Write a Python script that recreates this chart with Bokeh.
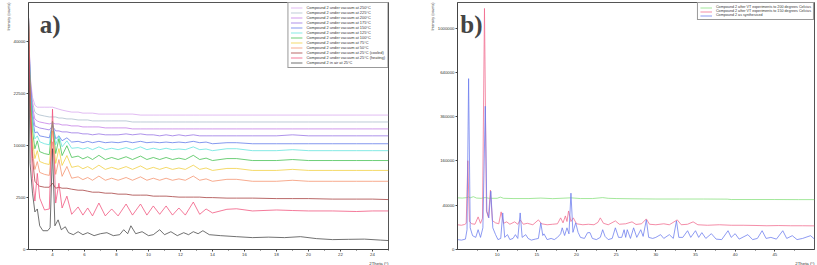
import numpy as np
from bokeh.plotting import figure
from bokeh.layouts import row
from bokeh.models import FixedTicker, Label, Legend, LegendItem, Range1d, Title
from bokeh.embed import file_html
from bokeh.resources import INLINE

# ---------------- panel a) data (2Theta in degrees, intensity in counts) ----------------
two_theta_a = [2.5, 2.6, 2.75, 2.9, 3.05, 3.2, 3.5, 3.8, 4.0, 4.2, 4.4, 4.6, 4.9, 5.2, 5.6, 5.9,
               6.2, 6.5, 6.9, 7.3, 7.7, 8.1, 8.6, 9.0, 9.5, 9.9, 10.3, 10.7, 11.1, 11.5, 11.9,
               12.3, 12.8, 13.2, 13.6, 14.0, 14.9, 15.5, 16.5, 18.0, 19.0, 20.0, 21.5, 23.0,
               24.0, 25.0]

vac250 = [50000, 28090, 21490, 19320, 18800, 18800, 18800, 18800, 18800, 18550, 18280, 18040,
          17770, 17530, 17530, 17270, 17270, 17270, 17030, 17030, 17030, 17030, 17030, 17030,
          16780, 16780, 16780, 16780, 16780, 16780, 16780, 16780, 16780, 16780, 16780, 16780,
          16780, 16780, 16780, 16780, 16780, 16780, 16780, 16780, 16780, 16780]
vac225 = [50000, 27490, 20140, 17530, 17030, 16800, 16540, 16310, 16310, 16310, 16050, 16050,
          15830, 15830, 15580, 15580, 15580, 15350, 15350, 15350, 15350, 15350, 15350, 15094,
          15094, 15094, 15094, 15094, 15094, 15094, 15094, 15094, 15094, 15094, 15094, 15094,
          15094, 15094, 15094, 15094, 15094, 15094, 15094, 15094, 15094, 15094]
vac200 = [50000, 26830, 18820, 15800, 15330, 15100, 14860, 14640, 14860, 14640, 14640, 14400,
          14400, 14180, 14180, 13950, 13950, 13950, 13950, 13730, 13730, 13730, 13730, 13500,
          13500, 13500, 13500, 13500, 13500, 13500, 13500, 13500, 13500, 13500, 13500, 13500,
          13500, 13500, 13500, 13500, 13500, 13500, 13500, 13500, 13500, 13500]
vac175 = [50000, 26210, 17530, 14160, 13950, 13710, 13500, 13270, 14160, 13060, 13060, 12840,
          12840, 12630, 12630, 12410, 12410, 12210, 12410, 12210, 12210, 12210, 12410, 12210,
          12410, 12210, 12210, 11995, 12210, 11995, 12210, 11995, 12210, 11995, 11995, 11995,
          11995, 11995, 11995, 11995, 12210, 11995, 11995, 11995, 11995, 11995]
vac150 = [50000, 25280, 16050, 12630, 12840, 11990, 11790, 11580, 14620, 11380, 11990, 10980,
          11580, 10716, 10863, 10590, 10863, 10590, 10863, 10590, 10716, 10590, 10863, 10590,
          10863, 10590, 10716, 10590, 10716, 10590, 10716, 10590, 10863, 10590, 10716, 10385,
          10590, 10590, 10385, 10385, 10385, 10385, 10385, 10385, 10385, 10385]
vac125 = [50000, 24680, 14860, 11364, 11990, 10774, 10384, 10181, 15326, 10181, 11990, 9801,
          10962, 9513, 9637, 9376, 9637, 9254, 9776, 9254, 9513, 9254, 9637, 9254, 9776, 9254,
          9513, 9254, 9513, 9254, 9376, 9254, 9776, 9254, 9376, 9070, 9428, 9428, 9070, 9070,
          9254, 9070, 9070, 9070, 9070, 9070]
vac100 = [50000, 23226, 13064, 9428, 10962, 8892, 8538, 8354, 15326, 8538, 11385, 8190, 10000,
          7862, 8103, 7627, 7988, 7517, 8232, 7517, 7862, 7517, 7988, 7517, 8103, 7517, 7862,
          7517, 7862, 7517, 7750, 7517, 8232, 7517, 7750, 7347, 7674, 7674, 7347, 7347, 7517,
          7347, 7347, 7347, 7347, 7347]
vac75 = [50000, 20420, 10980, 7674, 9063, 7191, 6872, 6708, 13064, 6872, 9448, 6561, 8190, 6268,
         6484, 6058, 6381, 5960, 6598, 5960, 6268, 5960, 6381, 5960, 6484, 5960, 6268, 5960, 6268,
         5960, 6168, 5960, 6598, 5960, 6168, 5805, 6100, 6100, 5805, 5805, 5960, 5805, 5805, 5805,
         5805, 5805]
vac50 = [50000, 17530, 8890, 5944, 7174, 5520, 5242, 5098, 10774, 5242, 7517, 4970, 6400, 4716,
         4903, 4534, 4814, 4449, 5004, 4449, 4716, 4449, 4814, 4449, 4903, 4449, 4716, 4449, 4716,
         4449, 4629, 4449, 5004, 4449, 4629, 4319, 4570, 4570, 4319, 4319, 4449, 4319, 4319, 4319,
         4319, 4319]
vac25_cooled = [48000, 20950, 7677, 4319, 3950, 3715, 3600, 3600, 4072, 3487, 3600, 3487, 3487,
                3375, 3265, 3265, 3157, 3050, 3050, 2947, 2947, 2845, 2845, 2744, 2744, 2744,
                2645, 2645, 2645, 2596, 2548, 2548, 2548, 2548, 2500, 2500, 2452, 2452, 2452,
                2405, 2405, 2405, 2359, 2359, 2359, 2313]
vac25_heating = [50000, 18290, 4702, 2178, 5377, 2452, 1450, 1525, 18290, 2004, 4072, 1600, 2645,
                 1150, 1680, 1100, 1600, 1048, 2004, 1048, 1525, 1048, 1920, 1100, 1920, 1100,
                 1760, 1150, 1760, 1100, 1600, 1100, 2090, 1150, 1525, 1241, 1500, 1540, 1380,
                 1450, 1410, 1380, 1380, 1340, 1380, 1380]

air_two_theta = [2.5, 2.6, 2.75, 2.9, 3.05, 3.2, 3.4, 3.7, 3.85, 4.0, 4.15, 4.35, 4.55, 4.8, 5.0,
                 5.3, 5.6, 5.9, 6.2, 6.6, 7.0, 7.4, 7.8, 8.2, 8.45, 8.7, 8.9, 9.2, 9.6, 10.0,
                 10.3, 10.7, 11.0, 11.4, 11.8, 12.2, 12.5, 12.8, 13.1, 13.4, 13.8, 14.5, 15.5,
                 16.5, 17.5, 18.5, 19.5, 20.5, 21.5, 22.5, 23.5, 24.5, 25.0]
air25 = [40000, 6866, 2947, 1310, 1525, 522, 327, 327, 439, 9437, 522, 816, 363, 480, 262, 204,
         294, 204, 262, 178, 232, 262, 178, 204, 363, 232, 522, 232, 294, 178, 204, 363, 204, 294,
         178, 262, 204, 294, 232, 327, 204, 178, 153, 131, 142, 131, 153, 110, 91, 96, 100, 82, 74]

series_a_labels = ["Compound 2 under vacuum at 250°C", "Compound 2 under vacuum at 225°C",
                   "Compound 2 under vacuum at 200°C", "Compound 2 under vacuum at 175°C",
                   "Compound 2 under vacuum at 150°C", "Compound 2 under vacuum at 125°C",
                   "Compound 2 under vacuum at 100°C", "Compound 2 under vacuum at 75°C",
                   "Compound 2 under vacuum at 50°C", "Compound 2 under vacuum at 25°C (cooled)",
                   "Compound 2 under vacuum at 25°C (heating)", "Compound 2 in air at 25°C"]
series_a_colors = ["#d7a6ee", "#a9bccb", "#c27ae6", "#9470e4", "#5d78e8", "#5fe3dd", "#3fbf4c",
                   "#f0cf3c", "#f5906c", "#a33a3a", "#f0507a", "#444444"]

x_ticks_a = [4, 6, 8, 10, 12, 14, 16, 18, 20, 22, 24]
x_minor_a = [3, 5, 7, 9, 11, 13, 15, 17, 19, 21, 23, 25]
y_ticks_a = [0, 2500, 10000, 22500, 40000]

# ---------------- panel b) data ----------------
green_two_theta = [5.0, 5.6, 6.2, 6.4, 6.6, 7.0, 7.4, 8.0, 8.5, 9.0, 10.0, 10.4, 10.8, 12.0, 14.0,
                   15.5, 17.0, 19.3, 20.5, 22.0, 23.3, 24.0, 25.0, 27.0, 30.0, 33.0, 36.0, 39.0,
                   39.5, 42.0, 45.0, 48.0, 50.0]
vt200 = [54500, 54000, 55000, 56500, 54500, 57000, 54000, 53500, 55000, 53500, 53500, 56000,
         53500, 53000, 53000, 54000, 52800, 54500, 53000, 53000, 55000, 53500, 53000, 52500,
         52000, 52000, 52000, 51800, 51000, 51000, 51000, 50800, 50800]

pink_two_theta = [5.0, 5.5, 5.9, 6.1, 6.3, 6.5, 6.8, 7.2, 7.6, 7.9, 8.15, 8.4, 8.65, 8.9, 9.15,
                  9.4, 9.8, 10.2, 10.5, 10.8, 11.2, 11.6, 12.2, 12.6, 12.9, 13.3, 13.8, 14.5,
                  15.2, 15.6, 16.3, 17.0, 17.6, 18.0, 18.3, 18.6, 18.8, 19.0, 19.3, 19.6, 20.0,
                  20.8, 21.5, 22.2, 22.7, 23.0, 23.4, 24.0, 24.9, 25.4, 26.2, 27.0, 27.5, 28.2,
                  28.8, 29.2, 30.0, 31.0, 31.7, 32.7, 33.2, 34.0, 34.7, 35.3, 36.5, 38.0, 39.5,
                  41.0, 42.5, 44.0, 45.5, 47.0, 48.5, 50.0]
vt150 = [12500, 12000, 12800, 14000, 161000, 16000, 13500, 13000, 21700, 14000, 20000, 1186000,
         30000, 21000, 71800, 17000, 14500, 13500, 28900, 14000, 15600, 13000, 15600, 13000,
         17900, 13000, 14000, 12500, 17900, 13500, 12500, 13000, 13500, 20400, 14500, 23000,
         16000, 30300, 16000, 20400, 13500, 12500, 13000, 12500, 15000, 20400, 14000, 12500,
         16700, 13000, 13500, 15600, 12800, 13500, 19100, 13000, 12500, 13500, 12500, 17900,
         12500, 13000, 15600, 12500, 12000, 12500, 12000, 12000, 11800, 11500, 11700, 11500,
         11500, 11400]

blue_two_theta = [5.0, 5.5, 6.0, 6.2, 6.4, 6.6, 6.9, 7.3, 7.6, 7.9, 8.2, 8.5, 8.7, 8.95, 9.2,
                  9.45, 9.8, 10.1, 10.45, 10.7, 10.95, 11.3, 11.6, 12.0, 12.3, 12.6, 12.9, 13.15,
                  13.6, 13.9, 14.3, 14.8, 15.2, 15.5, 15.75, 15.9, 16.3, 16.8, 17.2, 17.6, 18.0,
                  18.2, 18.5, 18.8, 19.05, 19.3, 19.55, 19.9, 20.2, 20.5, 21.0, 21.4, 21.7, 22.0,
                  22.5, 23.0, 23.3, 23.6, 24.0, 24.5, 24.9, 25.3, 25.7, 26.0, 26.2, 26.4, 26.8,
                  27.2, 27.6, 28.1, 28.4, 28.8, 29.1, 29.6, 30.0, 30.6, 31.0, 31.7, 32.2, 32.6,
                  32.9, 33.4, 34.0, 34.4, 35.0, 35.4, 35.8, 36.3, 37.0, 37.6, 38.3, 39.1, 39.5,
                  40.0, 40.5, 41.6, 42.2, 42.8, 43.4, 43.9, 44.5, 45.2, 46.0, 46.5, 47.2, 47.8,
                  48.5, 49.5, 50.0]
as_synth = [2000, 1800, 2200, 8000, 596000, 9600, 3900, 3000, 8000, 3000, 9600, 419000, 30000,
            20400, 69400, 9600, 4500, 2000, 2500, 27300, 3000, 4500, 2000, 2500, 4500, 2500,
            27300, 3000, 4500, 2500, 1800, 2200, 2500, 14500, 4000, 5000, 2000, 2500, 2000, 3000,
            5000, 9600, 4000, 9600, 5000, 64800, 6000, 14500, 6000, 3000, 2500, 5800, 5800, 2500,
            2000, 3000, 8000, 3500, 2000, 2500, 9600, 3000, 3000, 8000, 3000, 8000, 2500, 9600,
            3000, 8000, 3500, 17900, 3000, 2500, 3000, 4500, 2500, 4500, 2500, 16700, 3000, 3000,
            7200, 3000, 7200, 3000, 5800, 2500, 5100, 2200, 2000, 7200, 3000, 5100, 2200, 4500,
            2000, 2500, 7200, 2500, 3000, 2200, 7200, 2500, 3900, 2000, 2500, 3900, 2200]

series_b_labels = ["Compound 2 after VT experiments to 200 degrees Celcius",
                   "Compound 2 after VT experiments to 150 degrees Celcius",
                   "Compound 2 as synthesised"]
series_b_colors = ["#86e07c", "#f0698c", "#6b7cee"]

x_ticks_b = [10, 15, 20, 25, 30, 35, 40, 45]
x_minor_b = [7.5, 12.5, 17.5, 22.5, 27.5, 32.5, 37.5, 42.5, 47.5]
y_ticks_b = [0, 40000, 160000, 360000, 640000, 1000000]

FONT = "Liberation Sans"
FRAME_H = 247


def style(p, xt, xm, yt):
    p.grid.visible = False
    p.outline_line_color = "#555555"
    p.outline_line_width = 1
    p.xaxis.ticker = FixedTicker(ticks=xt, minor_ticks=xm)
    ypos = [float(np.sqrt(c)) for c in yt]
    p.yaxis.ticker = FixedTicker(ticks=ypos, minor_ticks=[])
    p.yaxis.major_label_overrides = {pos: str(c) for pos, c in zip(ypos, yt)}
    for ax in (p.xaxis[0], p.yaxis[0]):
        ax.axis_line_color = "#444444"
        ax.major_tick_line_color = "#444444"
        ax.minor_tick_line_color = "#444444"
        ax.major_tick_in = 0
        ax.major_tick_out = 2
        ax.minor_tick_in = 0
        ax.minor_tick_out = 1
        ax.major_label_text_font = FONT
        ax.major_label_text_font_size = "4.3px"
        ax.major_label_text_color = "#333333"
        ax.major_label_standoff = 1
    p.add_layout(Title(text="Intensity (counts)", align="right", text_font=FONT,
                       text_font_size="3.7px", text_font_style="normal", text_color="#333333",
                       standoff=0, offset=0), "left")
    p.add_layout(Title(text="2Theta (°)", align="right", text_font=FONT,
                       text_font_size="4.3px", text_font_style="normal", text_color="#333333",
                       standoff=0, offset=0), "below")


def legend_for(p, items, fs):
    lg = Legend(items=items, location="top_right", margin=0, padding=2, spacing=0,
                label_text_font=FONT, label_text_font_size=fs, label_text_color="#333333",
                label_height=3, glyph_height=3, glyph_width=12, label_standoff=4,
                border_line_color="#333333", border_line_width=1,
                background_fill_color="white", background_fill_alpha=1.0)
    p.add_layout(lg)


# ---------------- panel a ----------------
pa = figure(frame_width=360, frame_height=FRAME_H, x_range=Range1d(2.5, 25.0),
            y_range=Range1d(0, 238), output_backend="svg", toolbar_location=None,
            min_border_left=28, min_border_right=20, min_border_top=2, min_border_bottom=12)
style(pa, x_ticks_a, x_minor_a, y_ticks_a)

series_a = [vac250, vac225, vac200, vac175, vac150, vac125, vac100, vac75, vac50,
            vac25_cooled, vac25_heating]
items_a = []
for ys, lab, col in zip(series_a, series_a_labels[:-1], series_a_colors[:-1]):
    r = pa.line(two_theta_a, np.sqrt(ys), line_color=col, line_width=0.9, line_alpha=0.85)
    items_a.append(LegendItem(label=lab, renderers=[r]))
r = pa.line(air_two_theta, np.sqrt(air25), line_color=series_a_colors[-1], line_width=0.9,
            line_alpha=0.85)
items_a.append(LegendItem(label=series_a_labels[-1], renderers=[r]))
legend_for(pa, items_a, "3.9px")

pa.add_layout(Label(x=3.2, y=230, text="a)", text_font="Liberation Serif", text_font_style="bold",
                    text_font_size="25px", text_baseline="top", text_align="left"))

# ---------------- panel b ----------------
pb = figure(frame_width=357, frame_height=FRAME_H, x_range=Range1d(5, 50),
            y_range=Range1d(0, 1116), output_backend="svg", toolbar_location=None,
            min_border_left=49, min_border_right=1, min_border_top=2, min_border_bottom=12)
style(pb, x_ticks_b, x_minor_b, y_ticks_b)

items_b = []
for xs, ys, lab, col in zip([green_two_theta, pink_two_theta, blue_two_theta],
                            [vt200, vt150, as_synth], series_b_labels, series_b_colors):
    r = pb.line(xs, np.sqrt(ys), line_color=col, line_width=0.9, line_alpha=0.85)
    items_b.append(LegendItem(label=lab, renderers=[r]))
legend_for(pb, items_b, "3.7px")

pb.add_layout(Label(x=5.35, y=1078, text="b)", text_font="Liberation Serif", text_font_style="bold",
                    text_font_size="25px", text_baseline="top", text_align="left"))

layout = row(pa, pb)
open("out.html", "w").write(file_html(layout, INLINE))
